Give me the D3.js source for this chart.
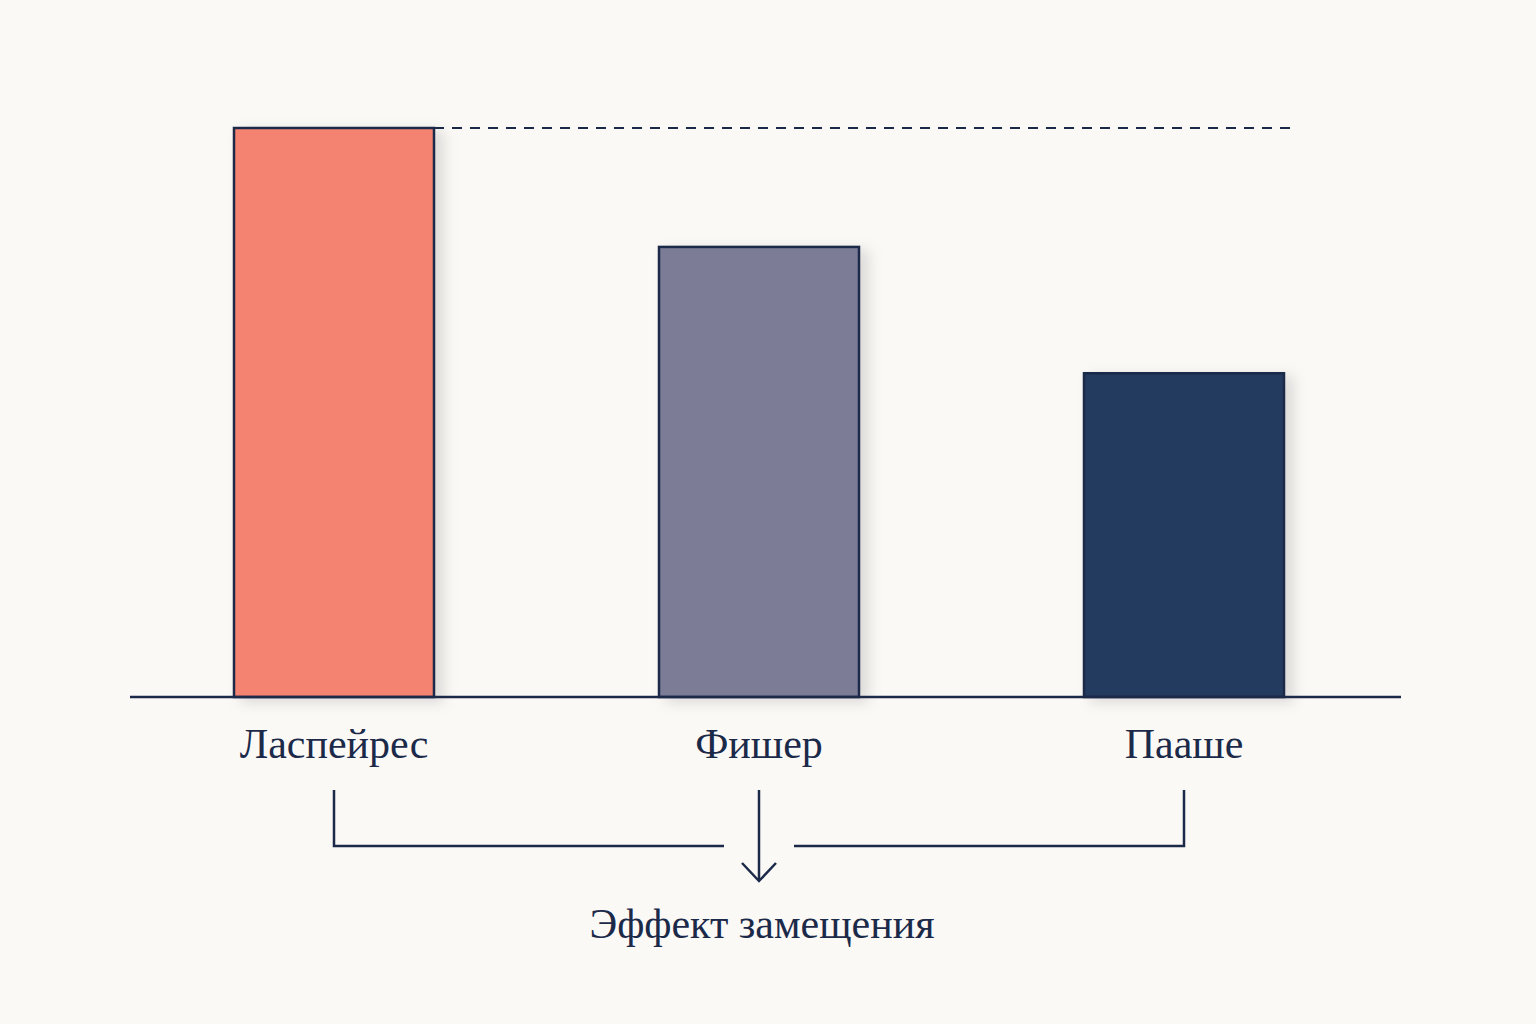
<!DOCTYPE html>
<html><head><meta charset="utf-8">
<script src="https://cdn.jsdelivr.net/npm/d3@7"></script>
<style>body{margin:0;background:#fbf9f6}svg{display:block}</style>
</head><body><svg id="c" width="1536" height="1024"></svg>
<script>
const categories = ["Ласпейрес","Фишер","Пааше"];
const values = [100, 79.1, 56.9];
const colors = ["#f48372","#7b7b96","#233a5e"];
const bottomLabel = "Эффект замещения";

const ink = "#1c2a4a";
const svg = d3.select("#c");
svg.append("rect").attr("width",1536).attr("height",1024).attr("fill","#fbf9f6");
const defs = svg.append("defs");
const f = defs.append("filter").attr("id","sh").attr("x","-20%").attr("y","-20%").attr("width","150%").attr("height","150%");
f.append("feDropShadow").attr("dx",8).attr("dy",4).attr("stdDeviation",7).attr("flood-color","#000").attr("flood-opacity",0.13);

const x = d3.scalePoint().domain(categories).range([334,1184]);
const y = d3.scaleLinear().domain([0,100]).range([697,128]);
const bw = 200;

svg.append("line").attr("x1",434).attr("x2",1290).attr("y1",y(values[0])).attr("y2",y(values[0]))
  .attr("stroke",ink).attr("stroke-width",2).attr("stroke-dasharray","10,8");

svg.selectAll("rect.bar").data(categories).join("rect").attr("class","bar")
  .attr("x",d=>x(d)-bw/2).attr("width",bw)
  .attr("y",(d,i)=>y(values[i])).attr("height",(d,i)=>y(0)-y(values[i]))
  .attr("fill",(d,i)=>colors[i]).attr("stroke",ink).attr("stroke-width",2.5)
  .attr("filter","url(#sh)");

svg.append("line").attr("x1",130).attr("x2",1401).attr("y1",y(0)).attr("y2",y(0)).attr("stroke",ink).attr("stroke-width",2.5);

svg.selectAll("text.cat").data(categories).join("text").attr("class","cat")
  .attr("x",d=>x(d)).attr("y",758).attr("text-anchor","middle")
  .attr("font-family","Liberation Serif, serif").attr("font-size",42).attr("fill",ink).text(d=>d);

const g = svg.append("g").attr("stroke",ink).attr("stroke-width",2.5).attr("fill","none");
const xl = x(categories[0]), xr = x(categories[2]), xm = x(categories[1]);
g.append("path").attr("d",`M${xl},790V846H${xm-35}`);
g.append("path").attr("d",`M${xr},790V846H${xm+35}`);
g.append("path").attr("d",`M${xm},790V880`);
g.append("path").attr("d",`M${xm-17},863L${xm},881L${xm+17},863`);

svg.append("text").attr("x",762).attr("y",938).attr("text-anchor","middle")
  .attr("font-family","Liberation Serif, serif").attr("font-size",42).attr("fill",ink).text(bottomLabel);
</script></body></html>
